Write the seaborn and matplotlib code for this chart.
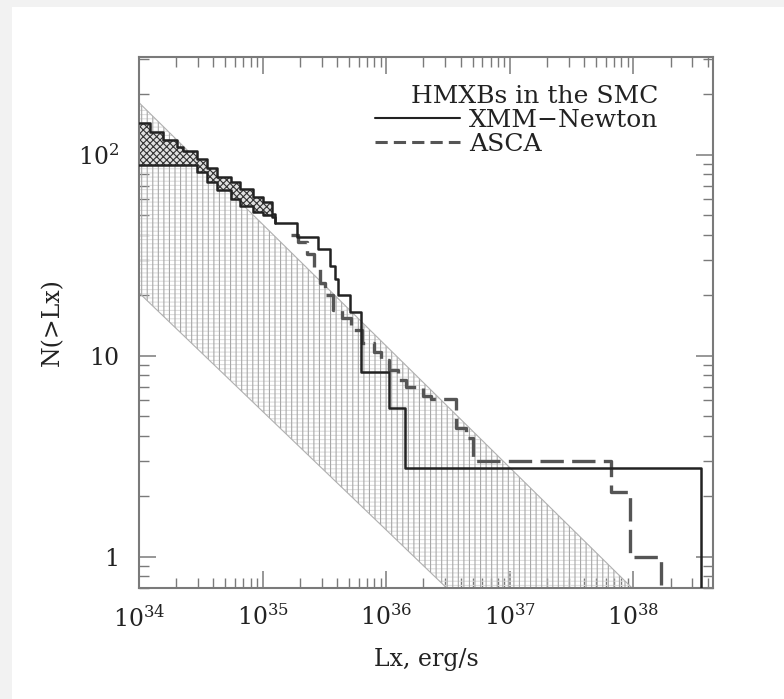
import numpy as np
import pandas as pd
import matplotlib
matplotlib.use("Agg")
import matplotlib.pyplot as plt
import seaborn as sns
from matplotlib.patches import Rectangle
from matplotlib.lines import Line2D
from matplotlib.ticker import LogLocator, FixedLocator, FixedFormatter, NullFormatter

# ---------------- data ----------------
# incompleteness-corrected region of the XMM-Newton curve (left part)
corr_lx = [1.0e34, 1.23e34, 1.55e34, 2.04e34, 2.29e34, 2.95e34, 3.55e34,
           4.27e34, 5.5e34, 6.6e34, 8.3e34, 1.0e35, 1.2e35, 1.26e35]
corr_upper = [144, 130, 119, 110, 104, 95, 86, 78, 73, 68, 62, 58, 51, 46]
corr_lower = [89, 89, 89, 89, 89, 82, 73, 67, 60, 56, 52, 50, 49, 46]

# XMM-Newton cumulative curve (right part)
xmm_lx = [1.26e35, 1.89e35, 2.79e35, 3.49e35, 3.83e35, 4.05e35, 5.06e35,
          6.21e35, 1.06e36, 1.41e36, 3.53e38]
xmm_n = [46, 39, 34, 28, 24, 20, 16.6, 8.3, 5.5, 2.77, 0.3]

# ASCA cumulative curve
asca_lx = [1.7e35, 1.95e35, 2.3e35, 2.6e35, 2.9e35, 3.2e35, 3.7e35, 4.4e35, 5.2e35,
           6.4e35, 8.0e35, 9.0e35, 1.05e36, 1.25e36, 1.45e36, 1.97e36,
           2.3e36, 3.7e36, 4.4e36, 5.0e36, 6.6e37, 9.3e37, 1.66e38]
asca_n = [40, 37, 32, 27, 23, 20, 17, 15.4, 13.5, 11.6, 10.5, 9.5, 8.5, 7.6,
          7.0, 6.3, 6.1, 4.4, 3.9, 3.0, 2.1, 1.0, 0.3]

# expected band (power-law limits)
band_lx = [1e34, 1e39]
band_hi = [182, 0.171]
band_lo = [20.6, 0.0231]

xticks = [1e34, 1e35, 1e36, 1e37, 1e38]
xtick_labels = [r"$10^{34}$", r"$10^{35}$", r"$10^{36}$", r"$10^{37}$", r"$10^{38}$"]
yticks = [1, 10, 100]
ytick_labels = ["1", "10", r"$10^2$"]

legend_title = "HMXBs in the SMC"
series_labels = ["XMM\u2212Newton", "ASCA"]

# ---------------- style ----------------
sns.set_theme(style="ticks")
plt.rcParams["font.family"] = ["DejaVu Serif"]
plt.rcParams["mathtext.fontset"] = "dejavuserif"
plt.rcParams["hatch.linewidth"] = 0.8

TXT = "#222222"
AXC = "#7a7a7a"

fig = plt.figure(figsize=(7.84, 6.99), dpi=100, facecolor="#f2f2f2")
fig.patches.append(Rectangle((12 / 784, 0), 1, 1 - 7 / 699, transform=fig.transFigure,
                             facecolor="white", edgecolor="none", zorder=-10))
ax = fig.add_axes([139 / 784, 1 - 588 / 699, (713 - 139) / 784, (588 - 57) / 699])
ax.set_facecolor("white")
ax.set_xscale("log")
ax.set_yscale("log")

# band
ax.fill_between(band_lx, band_lo, band_hi, facecolor="none", edgecolor="#dedede",
                hatch="----", linewidth=0, zorder=1)
ax.fill_between(band_lx, band_lo, band_hi, facecolor="none", edgecolor="#a8a8a8",
                hatch="|||", linewidth=0, zorder=1)
ax.plot(band_lx, band_hi, color="#b0b0b0", lw=0.8, zorder=1)
ax.plot(band_lx, band_lo, color="#b0b0b0", lw=0.8, zorder=1)

# dark hatched region
ax.fill_between(corr_lx, corr_lower, corr_upper, step="post", facecolor="#e0e0e0",
                edgecolor="#333333", hatch="xxxxx", linewidth=0, zorder=2)

# lines
up_x = corr_lx[:-1] + xmm_lx
up_y = corr_upper[:-1] + xmm_n
sns.lineplot(x=up_x, y=up_y, drawstyle="steps-post", sort=False, estimator=None,
             color="#222222", linewidth=1.8, ax=ax, zorder=4)
sns.lineplot(x=corr_lx, y=corr_lower, drawstyle="steps-post", sort=False, estimator=None,
             color="#222222", linewidth=1.8, ax=ax, zorder=4)
sns.lineplot(x=asca_lx, y=asca_n, drawstyle="steps-post", sort=False, estimator=None,
             color="#555555", linewidth=2.4, dashes=False, ax=ax, zorder=3,
             linestyle=(0, (7, 2.5)))

ax.set_xlim(1e34, 4.4e38)
ax.set_ylim(0.70, 307)

ax.xaxis.set_major_locator(FixedLocator(xticks))
ax.xaxis.set_major_formatter(FixedFormatter(xtick_labels))
ax.yaxis.set_major_locator(FixedLocator(yticks))
ax.yaxis.set_major_formatter(FixedFormatter(ytick_labels))
ax.xaxis.set_minor_locator(LogLocator(base=10, subs=range(2, 10), numticks=20))
ax.yaxis.set_minor_locator(LogLocator(base=10, subs=range(2, 10), numticks=20))
ax.xaxis.set_minor_formatter(NullFormatter())
ax.yaxis.set_minor_formatter(NullFormatter())

ax.tick_params(which="both", direction="in", top=True, right=True, color=AXC)
ax.tick_params(which="major", length=12.5, width=1.1, labelsize=17, labelcolor=TXT)
ax.tick_params(which="minor", length=7, width=1.0)
ax.tick_params(axis="x", which="major", pad=12)
ax.tick_params(axis="y", which="major", pad=14)
for s in ax.spines.values():
    s.set_color(AXC)
    s.set_linewidth(1.5)

ax.set_xlabel("Lx, erg/s", fontsize=17, color=TXT, labelpad=12)
ax.set_ylabel("N(>Lx)", fontsize=17, color=TXT, labelpad=10)

handles = [Line2D([], [], color="#222222", lw=1.5),
           Line2D([], [], color="#555555", lw=2.2, linestyle=(0, (4, 2)))]
leg = ax.legend(handles, series_labels, title=legend_title, loc="upper right",
                bbox_to_anchor=(0.905, 0.948), frameon=False, fontsize=18,
                title_fontsize=18, handlelength=3.4, handletextpad=0.35,
                labelspacing=0.05, borderpad=0, borderaxespad=0, alignment="right")
for t in leg.get_texts():
    t.set_color(TXT)
leg.get_title().set_color(TXT)

fig.savefig("out.png", dpi=100, facecolor=fig.get_facecolor())
